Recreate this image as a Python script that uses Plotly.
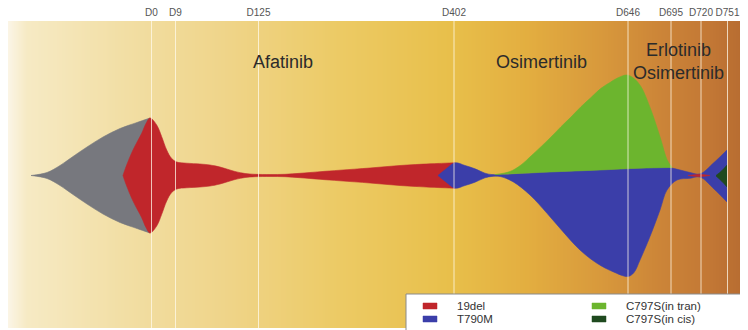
import plotly.graph_objects as go
import numpy as np

# ---------------- data ----------------
TIME_LABELS = ["D0", "D9", "D125", "D402", "D646", "D695", "D720", "D751"]
TIME_POS = [151.5, 175.5, 258.5, 454, 628, 671, 701, 727.5]   # position on the fish time axis

TREATMENTS = ["Afatinib", "Osimertinib", "Erlotinib<br>Osimertinib"]
TREAT_POS = [283, 541, 678]

LEGEND_LABELS = ["19del", "T790M", "C797S(in tran)", "C797S(in cis)"]

# clone outlines (time-axis position, upper / lower extent around the centre line)
GRAY_X = [31, 47, 60, 73, 87, 103, 120, 137, 150]
GRAY_TOP = [0, 3, 10, 19, 28.5, 38.5, 47, 53, 57.5]
GRAY_BOT = [0, -3, -10, -19, -28.5, -38.5, -47, -53, -57.5]

RED_X = [123, 126, 133, 141.7, 146, 150, 156.7, 161.7, 166.7, 171.7, 176.7, 186.7, 200, 210,
         220, 235, 245, 255, 270, 285, 300, 320, 340, 370, 400, 430, 445, 455]
RED_TOP = [0, 8.8, 25.5, 42.2, 52, 57.5, 50.5, 38.8, 25.5, 17, 13.5, 12.3, 11.5, 10.5,
           8.5, 4, 2, 1.2, 1.0, 1.2, 2.2, 3.8, 5.3, 7.5, 10, 11.7, 12.3, 12.7]
RED_BOT = [0, -8.8, -25.5, -42.2, -52, -57.5, -50.5, -38.8, -25.5, -17, -13.5, -12.3, -11.5, -10.5,
           -8.5, -4, -2, -1.2, -1.0, -1.2, -2.2, -3.8, -5.3, -7.5, -10, -11.7, -12.3, -12.7]

BLUE_TOP_X = [438, 446, 455, 465, 475, 485, 492, 500, 550, 600, 640, 668, 680, 690, 700, 714, 727]
BLUE_TOP = [0, 6.5, 12.7, 10, 6.7, 2.3, 0.9, 0.9, 3.5, 5.5, 7.3, 8, 5.5, 3, 1.6, 13, 25.5]
BLUE_BOT_X = [438, 446, 455, 465, 475, 485, 492, 500, 513, 530, 547, 563, 580, 597, 613, 628,
              634, 640, 650, 660, 667, 677, 690, 700, 714, 727]
BLUE_BOT = [0, -6.5, -12.7, -10, -6.7, -2.3, -0.9, -1, -6.2, -19.5, -37.8, -56.2, -74.5, -87.8,
            -96.2, -101, -97, -84.5, -61, -34.5, -14.5, -4.5, -2.8, -1.6, -13.5, -26.5]

GREEN_TOP_X = [495, 510, 521, 531, 541, 551, 561, 571, 581, 591, 601, 610, 617, 627, 634, 641,
               651, 661, 667, 672]
GREEN_TOP = [0.9, 4, 10.5, 19.5, 28.8, 38.5, 48.8, 58.5, 68.8, 78, 87.2, 93, 97.2, 100.5, 97,
             88.8, 65.5, 35.5, 16, 8]
GREEN_BOT_X = [495, 550, 600, 640, 672]
GREEN_BOT = [0.9, 3.5, 5.5, 7.3, 8]

RED2_X = [688, 700, 710]
RED2_TOP = [0, 1.1, 0]
RED2_BOT = [0, -1.1, 0]

DKGREEN_X = [716, 722, 727]
DKGREEN_TOP = [0, 5, 10.5]
DKGREEN_BOT = [-0.5, -6, -11.5]

# ---------------- style ----------------
C_GRAY = "#77787e"
C_RED = "#c0262b"
C_BLUE = "#3b3ea9"
C_GREEN = "#6cb52e"
C_DKGREEN = "#1f4a1f"

BG_STOPS = [
    [0.00, "#fbf5e6"], [0.025, "#f6eac4"], [0.15, "#f2dfa6"], [0.30, "#efd488"],
    [0.45, "#ecca64"], [0.60, "#e8bf4a"], [0.70, "#e3ae40"], [0.80, "#d8993c"],
    [0.88, "#cc8538"], [0.95, "#c27735"], [1.00, "#b56a30"],
]

PAGE_OFF = 8                      # default body margin of the html page
W, H = 748 - PAGE_OFF, 330 - PAGE_OFF
X0_PX, X1_PX, Y0_PX, Y1_PX = 8, 748, 21, 328   # panel edges in page pixels
CENTER_PX = 175.5
Y_MAX = CENTER_PX - Y0_PX
Y_MIN = CENTER_PX - Y1_PX

FONT = "Liberation Sans, Arial, Helvetica, sans-serif"

fig = go.Figure()

# background gradient
gx = np.linspace(X0_PX - 2, X1_PX + 2, 300)
fig.add_trace(go.Heatmap(
    x=gx, y=[Y_MIN - 2, Y_MAX + 2], z=[gx, gx], colorscale=BG_STOPS,
    zmin=X0_PX, zmax=X1_PX, showscale=False, zsmooth="best", hoverinfo="skip"))


def clone(xt, yt, xb, yb, color, name):
    fig.add_trace(go.Scatter(x=xt, y=yt, mode="lines", line=dict(color=color, width=0.6, shape="spline"),
                             showlegend=False, hoverinfo="skip", name=name))
    fig.add_trace(go.Scatter(x=xb, y=yb, mode="lines", line=dict(color=color, width=0.6, shape="spline"),
                             fill="tonexty", fillcolor=color, showlegend=False, hoverinfo="skip", name=name))


clone(GRAY_X, GRAY_TOP, GRAY_X, GRAY_BOT, C_GRAY, "Founder")
clone(RED_X, RED_TOP, RED_X, RED_BOT, C_RED, "19del")
clone(BLUE_TOP_X, BLUE_TOP, BLUE_BOT_X, BLUE_BOT, C_BLUE, "T790M")
clone(GREEN_TOP_X, GREEN_TOP, GREEN_BOT_X, GREEN_BOT, C_GREEN, "C797S(in tran)")
clone(RED2_X, RED2_TOP, RED2_X, RED2_BOT, C_RED, "19del")
clone(DKGREEN_X, DKGREEN_TOP, DKGREEN_X, DKGREEN_BOT, C_DKGREEN, "C797S(in cis)")

PW = X1_PX - X0_PX
PH = Y1_PX - Y0_PX


def px(x):
    return (x - X0_PX) / PW


def py(y):
    return (Y1_PX - y) / PH


shapes = []
for t in TIME_POS:
    shapes.append(dict(type="line", xref="x", yref="paper", x0=t, x1=t, y0=0, y1=1,
                       line=dict(color="rgba(255,250,235,0.75)", width=1), layer="above"))

# legend box
shapes.append(dict(type="rect", xref="paper", yref="paper", x0=px(406), x1=px(752), y0=py(294), y1=py(335),
                   fillcolor="white", line=dict(color="#8a8a8a", width=1), layer="above"))

annotations = []
leg_colors = [C_RED, C_BLUE, C_GREEN, C_DKGREEN]
leg_sw_x = [423, 423, 592, 592]
leg_tx_x = [455, 455, 624, 624]
leg_y = [306, 319, 306, 319]
for lab, c, sx, tx, ly in zip(LEGEND_LABELS, leg_colors, leg_sw_x, leg_tx_x, leg_y):
    shapes.append(dict(type="rect", xref="paper", yref="paper", x0=px(sx), x1=px(sx + 14),
                       y0=py(ly + 3), y1=py(ly - 3), fillcolor=c, line=dict(color=c, width=0.5), layer="above"))
    annotations.append(dict(xref="paper", yref="paper", x=px(tx), y=py(ly), text=lab, showarrow=False,
                            xanchor="left", yanchor="middle", font=dict(family=FONT, size=11.5, color="#333333")))

for txt, xpos in zip(TREATMENTS, TREAT_POS):
    annotations.append(dict(xref="x", yref="y", x=xpos, y=CENTER_PX - (62 if "<br>" not in txt else 61.5),
                            text=txt, showarrow=False, xanchor="center", yanchor="middle",
                            font=dict(family=FONT, size=18, color="#2b2b2b")))

fig.update_layout(
    width=W, height=H,
    margin=dict(l=X0_PX - PAGE_OFF, r=0, t=Y0_PX - PAGE_OFF, b=(330 - Y1_PX)),
    paper_bgcolor="white", plot_bgcolor="white",
    shapes=shapes, annotations=annotations, showlegend=False,
    xaxis=dict(range=[X0_PX, X1_PX], side="top", tickvals=TIME_POS, ticktext=TIME_LABELS,
               tickangle=0, ticks="", showgrid=False, zeroline=False, showline=False,
               ticklabelstandoff=2,
               tickfont=dict(family=FONT, size=10, color="#555555"), fixedrange=True),
    yaxis=dict(range=[Y_MIN, Y_MAX], visible=False, fixedrange=True),
)

fig.write_html("out.html")
